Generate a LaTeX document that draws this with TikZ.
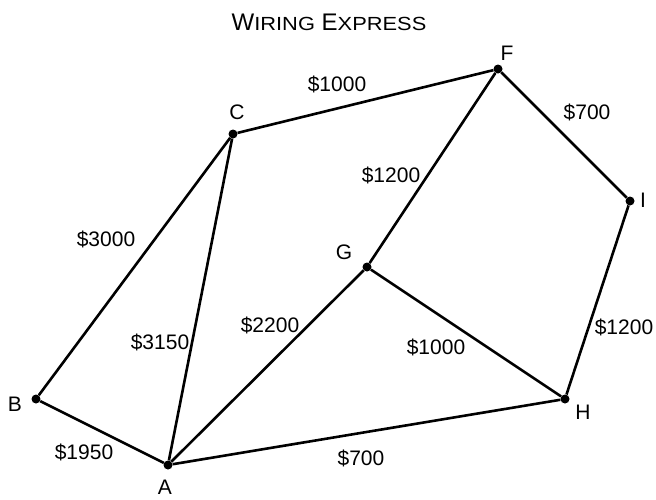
\documentclass[tikz,border=0pt]{standalone}
\usepackage{fontspec}
\setmainfont{Liberation Sans}
\usetikzlibrary{positioning}
\newcommand{\smallcap}[1]{{\fontsize{19}{22}\selectfont\scalebox{1.15}[1]{#1}}}
\tikzset{
  vertex/.style={circle,fill=black,inner sep=0pt,minimum size=9pt},
  vlabel/.style={inner sep=0pt,font=\fontsize{21}{24}\selectfont},
  elabel/.style={inner sep=0pt,font=\fontsize{21}{24}\selectfont},
  wire/.style={line width=2.6pt}
}
\begin{document}
\begin{tikzpicture}[x=1pt,y=-1pt]
        \useasboundingbox (0,0) rectangle (656,499);
        \node[font=\fontsize{24}{28}\selectfont] (title) at (329,22) {W\smallcap{IRING} E\smallcap{XPRESS}};
        \node[vertex] (A) at (168,465) {};
        \node[vertex] (B) at (36,399) {};
        \node[vertex] (C) at (233,134) {};
        \node[vertex] (F) at (498,69) {};
        \node[vertex] (G) at (367,267) {};
        \node[vertex] (H) at (565,399) {};
        \node[vertex] (I) at (630,201) {};
        \node[vlabel] (lA) at (165,487) {A};
        \node[vlabel] (lB) at (15,404) {B};
        \node[vlabel] (lC) at (237,112) {C};
        \node[vlabel] (lF) at (507,53) {F};
        \node[vlabel] (lG) at (344,252) {G};
        \node[vlabel] (lH) at (583,412) {H};
        \node[vlabel] (lI) at (643,200) {I};
        \path[wire]
          (C) edge (F)
          (F) edge (I)
          (F) edge (G)
          (B) edge (C)
          (A) edge (C)
          (A) edge (G)
          (G) edge (H)
          (I) edge (H)
          (B) edge (A)
          (A) edge (H);
        \node[elabel] (cCF) at (337,84) {\$1000};
        \node[elabel] (cFI) at (587,112) {\$700};
        \node[elabel] (cFG) at (391,175) {\$1200};
        \node[elabel] (cBC) at (106,239) {\$3000};
        \node[elabel] (cAC) at (160,342) {\$3150};
        \node[elabel] (cAG) at (270,325) {\$2200};
        \node[elabel] (cGH) at (436,347) {\$1000};
        \node[elabel] (cIH) at (624,327) {\$1200};
        \node[elabel] (cBA) at (84,452) {\$1950};
        \node[elabel] (cAH) at (361,458) {\$700};
      \end{tikzpicture}
\end{document}
